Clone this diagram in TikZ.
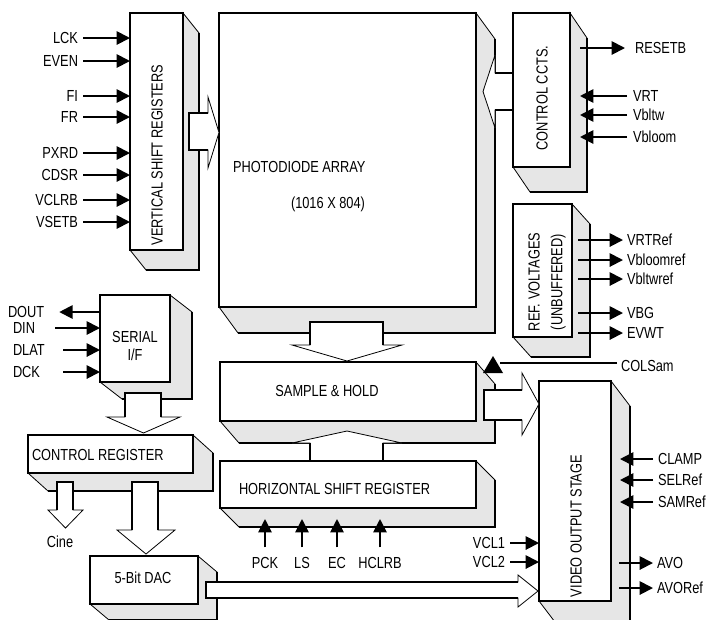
\documentclass[tikz,border=0pt]{standalone}
\usepackage{fontspec}
\setmainfont{Liberation Sans}[FakeStretch=0.8]
\usetikzlibrary{arrows.meta,fit,calc}
\definecolor{shade}{HTML}{E6E6E6}
\newcommand\extrude[3]{%
  \filldraw[fill=shade,draw=black,line width=0.6pt] (#1.north east) -- ++(#2,#3) -- ([shift={(#2,#3)}]#1.south east) -- ([shift={(#2,#3)}]#1.south west) -- (#1.south west) -- (#1.south east) -- cycle;
  \draw[line width=1.3pt] ([shift={(#2,#3)}]#1.north east) -- ([shift={(#2,#3)}]#1.south east) -- ([shift={(#2,#3)}]#1.south west);
  \draw[line width=1.5pt] (#1.north west) rectangle (#1.south east);}
\newcommand\blockarrowH[7]{%
  \filldraw[fill=white,draw=black,line width=0.6pt] (#1,#2) -- (#4,#2) -- (#4,#5) -- (#7,{(#5+#6)/2}) -- (#4,#6) -- (#4,#3) -- (#1,#3) -- cycle;
  \draw[line width=1.5pt] (#4,#2) -- (#1,#2) -- (#1,#3) -- (#4,#3);}
\newcommand\blockarrowV[7]{%
  \filldraw[fill=white,draw=black,line width=0.6pt] (#2,#1) -- (#2,#4) -- (#5,#4) -- ({(#5+#6)/2},#7) -- (#6,#4) -- (#3,#4) -- (#3,#1) -- cycle;
  \draw[line width=1.5pt] (#2,#4) -- (#2,#1) -- (#3,#1) -- (#3,#4);}
\begin{document}
\begin{tikzpicture}[x=0.75pt,y=-0.75pt,
  lbl/.style={inner sep=0pt,outer sep=0pt,font=\fontsize{12}{14}\selectfont,text height=8.6pt,text depth=0pt},
  mlbl/.style={inner sep=0pt,outer sep=0pt,align=center},
  blk/.style={draw,line width=1.5pt,fill=white,inner sep=0pt,outer sep=0pt,rectangle},
  sig/.style={line width=1.4pt,-{Triangle[length=10pt,width=10pt]}}]
\useasboundingbox (0,0) rectangle (709,619);
\clip (0,0) rectangle (709,619);

% ---- boxes ----
\node[blk,fit={(130,13) (183,250)}] (vsr) {};
\extrude{vsr}{16}{20}
\node[blk,fit={(219,13) (476,307)}] (pda) {};
\extrude{pda}{19}{26}
\node[blk,fit={(513,13) (570,167)}] (ctrl) {};
\extrude{ctrl}{17}{25}
\node[blk,fit={(513,204) (572,337)}] (ref) {};
\extrude{ref}{18}{20}
\node[blk,fit={(100,295) (170,382)}] (ser) {};
\extrude{ser}{22}{17}
\node[blk,fit={(28,435) (193,473)}] (creg) {};
\extrude{creg}{20}{18}
\node[blk,fit={(90,556) (198,604)}] (dac) {};
\extrude{dac}{19}{16}
\node[blk,fit={(220,362) (476,421)}] (sh) {};
\extrude{sh}{19}{22}
\node[blk,fit={(220,461) (476,508)}] (hsr) {};
\extrude{hsr}{19}{19}
\node[blk,fit={(539,381) (611,601)}] (vid) {};
\extrude{vid}{19}{25}

% ---- block arrows ----
\blockarrowH{189}{113}{150}{208}{97}{168}{219}
\blockarrowH{513}{73}{110}{495}{55}{128}{483}
\blockarrowV{322}{310}{383}{345}{292}{402}{361}
\blockarrowV{461}{310}{383}{443}{292}{402}{431}
\blockarrowH{484}{390}{420}{522}{373}{435}{539}
\blockarrowV{393}{125}{161}{417}{107}{180}{433}
\blockarrowV{482}{57}{73}{510}{48}{83}{528}
\blockarrowV{482}{132}{158}{530}{117}{175}{554}
\blockarrowH{206}{582}{598}{518}{575}{607}{538}

% ---- box texts ----
\node[lbl,rotate=90] (vsrt) at (157,155) {VERTICAL SHIFT REGISTERS};
\node[lbl,anchor=west] (pdat) at (233,167) {PHOTODIODE ARRAY};
\node[lbl] (pdas) at (328,203) {(1016 X 804)};
\node[lbl,rotate=90] (ctrlt) at (542,98) {CONTROL CCTS.};
\node[mlbl,rotate=90,font=\fontsize{12}{17}\selectfont] (reft) at (547,282) {REF. VOLTAGES\\(UNBUFFERED)};
\node[mlbl,font=\fontsize{12}{13.5}\selectfont] (sert) at (135,346) {SERIAL\\I/F};
\node[lbl,anchor=west] (cregt) at (32,455) {CONTROL REGISTER};
\node[lbl] (sht) at (327,391) {SAMPLE \& HOLD};
\node[lbl,anchor=west] (hsrt) at (239,489) {HORIZONTAL SHIFT REGISTER};
\node[lbl] (dact) at (143,578) {5-Bit DAC};
\node[lbl,rotate=90] (vidt) at (576,526) {VIDEO OUTPUT STAGE};
\node[lbl] (cine) at (60,542) {Cine};

% ---- vertical shift register inputs ----
\foreach \n/\y in {LCK/38,EVEN/61,FI/96,FR/117,PXRD/153,CDSR/175,VCLRB/200,VSETB/222}{
  \node[lbl,anchor=east] (in\n) at (78,\y) {\n};
  \draw[sig] ($(in\n.east)+(5,0)$) -- (in\n.east -| vsr.west);
}

% ---- control ccts ----
\node[lbl,anchor=west] (resetb) at (635,48) {RESETB};
\draw[sig] ($(ctrl.east |- resetb.west)+(10,0)$) -- ($(resetb.west)+(-10,0)$);
\foreach \n/\t/\y in {vrt/VRT/96,vbltw/Vbltw/115,vbloom/Vbloom/137}{
  \node[lbl,anchor=west] (\n) at (633,\y) {\t};
  \draw[sig] ($(\n.west)+(-6,0)$) -- ($(ctrl.east |- \n.west)+(10,0)$);
}

% ---- reference voltages ----
\foreach \n/\t/\y in {vrtref/VRTRef/240,vbloomref/Vbloomref/260,vbltwref/Vbltwref/279,vbg/VBG/313,evwt/EVWT/333}{
  \node[lbl,anchor=west] (\n) at (627,\y) {\t};
  \draw[sig] ($(ref.east |- \n.west)+(6,0)$) -- ($(\n.west)+(-4,0)$);
}

% ---- COLSam ----
\node[lbl,anchor=west] (colsam) at (621,366) {COLSam};
\draw[line width=0.8pt] ($(colsam.west)+(-4,-3)$) -- ($(sh.north east)+(24,1)$);
\fill ($(sh.north east)+(7,11)$) -- ($(sh.north east)+(17,-6)$) -- ($(sh.north east)+(27,11)$) -- cycle;

% ---- serial interface ----
\node[lbl,anchor=west] (dout) at (8,312) {DOUT};
\draw[sig] (dout.east -| ser.west) -- ($(dout.east)+(15,0)$);
\node[lbl,anchor=west] (din) at (13,328) {DIN};
\draw[sig] ($(din.west)+(42,0)$) -- (din.west -| ser.west);
\node[lbl,anchor=west] (dlat) at (13,350) {DLAT};
\draw[sig] ($(dlat.west)+(50,0)$) -- (dlat.west -| ser.west);
\node[lbl,anchor=west] (dck) at (13,372) {DCK};
\draw[sig] ($(dck.west)+(50,0)$) -- (dck.west -| ser.west);

% ---- horizontal shift register inputs ----
\foreach \n/\t/\x in {pck/PCK/265,ls/LS/302,ec/EC/337,hclrb/HCLRB/380}{
  \node[lbl] (\n) at (\x,563) {\t};
  \draw[sig] ($(\n.north)+(0,-10)$) -- ($(\n.north |- hsr.south)+(0,11)$);
}

% ---- video output stage ----
\node[lbl,anchor=east] (vcl1) at (505,543) {VCL1};
\draw[sig] ($(vcl1.east)+(5,0)$) -- (vcl1.east -| vid.west);
\node[lbl,anchor=east] (vcl2) at (505,562) {VCL2};
\draw[sig] ($(vcl2.east)+(5,0)$) -- (vcl2.east -| vid.west);
\foreach \n/\t/\y in {clamp/CLAMP/459,selref/SELRef/480,samref/SAMRef/502}{
  \node[lbl,anchor=west] (\n) at (658,\y) {\t};
  \draw[sig] ($(\n.west)+(-5,0)$) -- ($(vid.east |- \n.west)+(9,0)$);
}
\foreach \n/\t/\y in {avo/AVO/563,avoref/AVORef/588}{
  \node[lbl,anchor=west] (\n) at (657,\y) {\t};
  \draw[sig] ($(vid.east |- \n.west)+(8,0)$) -- ($(\n.west)+(-4,0)$);
}
\end{tikzpicture}
\end{document}
